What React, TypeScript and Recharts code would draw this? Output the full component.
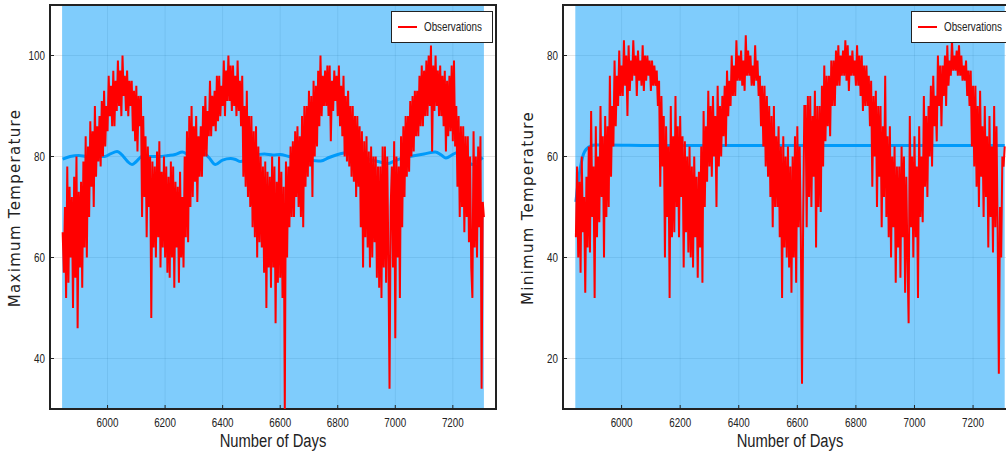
import React from 'react';
import { LineChart, Line, XAxis, YAxis, CartesianGrid, ReferenceArea, Legend } from 'recharts';

// daily observations, sampled every 4 days
const firstDay = 5844;
const dayStep = 4;

const maxObs = [
  65, 57, 70, 52, 78, 55, 74, 60, 72, 50, 76, 56, 80, 46, 73, 58, 75, 54, 79, 62,
  84, 60, 82, 68, 87, 74, 85, 70, 90, 76, 86, 79, 88, 78, 91, 80, 93, 82, 90, 85,
  96, 88, 94, 86, 97, 86, 95, 89, 99, 90, 97, 88, 100, 92, 96, 89, 97, 88, 95, 90,
  95, 85, 93, 83, 94, 81, 92, 86, 92, 68, 88, 72, 84, 64, 82, 70, 80, 48, 79, 62,
  78, 60, 81, 64, 83, 58, 77, 62, 80, 60, 78, 57, 76, 56, 79, 60, 78, 54, 75, 62,
  74, 55, 77, 60, 72, 58, 80, 64, 85, 63, 88, 70, 90, 72, 86, 75, 88, 71, 84, 76,
  86, 76, 90, 80, 92, 80, 89, 84, 95, 84, 92, 86, 93, 85, 96, 87, 96, 88, 94, 90,
  99, 88, 97, 91, 100, 91, 98, 89, 98, 90, 96, 88, 99, 89, 95, 86, 96, 76, 90, 74,
  93, 72, 88, 70, 88, 66, 85, 64, 86, 60, 82, 63, 80, 62, 78, 57, 79, 50, 77, 58,
  76, 54, 80, 58, 78, 47, 75, 55, 80, 56, 77, 52, 74, 30, 79, 60, 78, 66, 82, 68,
  83, 68, 85, 72, 86, 70, 84, 68, 88, 66, 90, 74, 90, 76, 93, 78, 92, 72, 95, 80,
  94, 82, 97, 86, 100, 88, 96, 90, 97, 90, 98, 88, 98, 83, 95, 89, 97, 91, 96, 88,
  98, 86, 94, 84, 96, 80, 92, 79, 93, 78, 90, 76, 90, 75, 88, 72, 88, 74, 86, 66,
  85, 58, 83, 64, 84, 62, 81, 58, 82, 60, 80, 63, 80, 56, 78, 54, 78, 52, 82, 58,
  82, 55, 80, 60, 34, 70, 78, 58, 83, 44, 80, 60, 78, 52, 84, 66, 86, 72, 88, 76,
  88, 77, 91, 80, 92, 81, 93, 84, 93, 84, 96, 86, 98, 86, 97, 88, 99, 88, 100, 90,
  102, 81, 98, 89, 100, 90, 97, 88, 98, 88, 96, 86, 97, 81, 95, 84, 96, 85, 98, 83,
  99, 82, 90, 74, 88, 68, 86, 70, 86, 65, 84, 68, 84, 63, 80, 58, 52, 85, 62, 80,
  60, 82, 66, 84, 34, 71, 68,
];

const minObs = [
  44, 58, 40, 55, 37, 60, 45, 52, 33, 56, 42, 62, 41, 69, 48, 58, 32, 66, 44, 60,
  47, 70, 52, 64, 40, 68, 48, 66, 50, 76, 56, 70, 62, 79, 66, 76, 70, 81, 72, 78,
  72, 83, 74, 80, 68, 82, 73, 79, 75, 83, 76, 80, 72, 81, 75, 79, 74, 82, 73, 80,
  75, 80, 76, 79, 73, 79, 74, 78, 74, 77, 70, 75, 54, 72, 58, 68, 40, 66, 48, 62,
  32, 70, 44, 64, 45, 72, 50, 66, 44, 68, 52, 64, 38, 63, 45, 60, 41, 62, 40, 58,
  38, 60, 44, 56, 36, 57, 42, 62, 35, 69, 50, 66, 55, 73, 58, 70, 56, 72, 60, 68,
  50, 74, 58, 70, 60, 72, 64, 74, 62, 77, 68, 75, 70, 80, 72, 78, 72, 83, 75, 80,
  75, 81, 74, 79, 73, 84, 76, 81, 76, 80, 74, 78, 74, 82, 75, 79, 72, 76, 66, 74,
  62, 74, 58, 72, 56, 70, 52, 68, 46, 70, 50, 64, 50, 66, 44, 62, 32, 64, 42, 60,
  40, 62, 38, 58, 33, 60, 40, 64, 35, 66, 46, 62, 44, 15, 48, 70, 70, 46, 72, 52,
  72, 50, 68, 56, 73, 42, 70, 50, 70, 49, 74, 58, 78, 63, 76, 66, 76, 64, 79, 70,
  79, 70, 81, 74, 82, 74, 80, 76, 81, 76, 83, 75, 82, 73, 80, 76, 81, 76, 79, 74,
  82, 74, 80, 72, 80, 69, 78, 70, 78, 70, 76, 66, 75, 54, 72, 60, 73, 50, 70, 56,
  70, 46, 66, 52, 76, 48, 64, 44, 66, 40, 60, 46, 62, 35, 58, 42, 58, 36, 62, 44,
  60, 33, 56, 40, 27, 68, 46, 60, 40, 64, 44, 58, 32, 66, 48, 60, 47, 72, 54, 68,
  52, 70, 60, 74, 58, 76, 66, 72, 63, 80, 70, 78, 66, 78, 72, 80, 70, 82, 74, 79,
  76, 83, 77, 80, 77, 81, 76, 82, 76, 80, 75, 78, 75, 79, 72, 77, 70, 77, 62, 74,
  58, 74, 54, 70, 50, 73, 56, 66, 48, 70, 52, 64, 42, 68, 48, 62, 41, 70, 46, 66,
  45, 17, 50, 40, 60, 58, 62,
];

// model mean
const maxMeanDays = [
  5844, 5870, 5900, 5930, 5960, 5990, 6010, 6033, 6055, 6070,
  6085, 6100, 6120, 6150, 6180, 6210, 6235, 6260, 6285, 6310,
  6329, 6352, 6375, 6400, 6428, 6445, 6462, 6480, 6510, 6545,
  6575, 6600, 6630, 6660, 6700, 6741, 6770, 6800, 6822, 6845,
  6875, 6905, 6940, 6973, 7000, 7030, 7060, 7100, 7139, 7160,
  7176, 7200, 7221, 7245, 7267, 7285, 7304,
];
const maxMean = [
  79.5, 80, 80.2, 80, 80, 80, 80.5, 81, 80, 79,
  78.4, 79, 80, 80, 80, 80.2, 80.4, 80.9, 80.3, 80.6,
  80.9, 79.8, 78.4, 79.3, 79.6, 79.4, 79, 79.3, 80.2, 80.5,
  80.3, 80.4, 80, 79.7, 79.3, 79.1, 79.8, 80.4, 80.7, 80.8,
  80.3, 79.5, 79, 78.6, 79.2, 79.8, 80.1, 80.5, 80.9, 80.3,
  79.7, 80.4, 80.9, 79.8, 78.4, 79, 79.8,
];

const minMeanDays = [5844, 5852, 5860, 5870, 5882, 5895, 5910, 5950, 6100, 6400, 6700, 7000, 7308];
const minMean = [51, 55, 58, 60.5, 61.6, 62.1, 62.3, 62.3, 62.2, 62.2, 62.2, 62.2, 62.2];

const xTicks = [6000, 6200, 6400, 6600, 6800, 7000, 7200];
const maxTicks = [40, 60, 80, 100];
const minTicks = [20, 40, 60, 80];

// no narrow face installed: squeeze Liberation Sans instead
const sans = "'Liberation Sans', Arial, sans-serif";
const squeeze = 0.82;
const ink = '#222';

function XTick({ x, y, payload }: any) {
  return (
    <g>
      <line x1={x} x2={x} y1={y} y2={y - 4} stroke={ink} />
      <text
        transform={`translate(${x},${y + 18}) scale(${squeeze},1)`}
        textAnchor="middle"
        fontFamily={sans}
        fontSize={12}
        fill={ink}
      >
        {payload.value}
      </text>
    </g>
  );
}

function YTick({ x, y, payload }: any) {
  return (
    <g>
      <line x1={x} x2={x + 4} y1={y} y2={y} stroke={ink} />
      <text
        transform={`translate(${x - 5},${y + 4}) scale(${squeeze},1)`}
        textAnchor="end"
        fontFamily={sans}
        fontSize={12}
        fill={ink}
      >
        {payload.value}
      </text>
    </g>
  );
}

function ObsLegend({ payload }: any) {
  const items = (payload || []).filter((p: any) => p.type !== 'none');
  return (
    <div style={{ background: '#fff', border: `1px solid ${ink}`, width: 102, height: 32, boxSizing: 'border-box' }}>
      {items.map((p: any) => (
        <svg key={p.value} width={100} height={30} style={{ display: 'block' }}>
          <line x1={6} x2={25} y1={15} y2={15} stroke={p.color} strokeWidth={2} />
          <text transform={`translate(32,19) scale(${squeeze},1)`} fontFamily={sans} fontSize={12} fill={ink}>
            {p.value}
          </text>
        </svg>
      ))}
    </div>
  );
}

interface PanelProps {
  left: number;
  width: number;
  obs: number[];
  meanDays: number[];
  mean: number[];
  yDomain: [number, number];
  yTicks: number[];
  yLabel: string;
  legendLeft: number;
}

function Panel({ left, width, obs, meanDays, mean, yDomain, yTicks, yLabel, legendLeft }: PanelProps) {
  const obsData = obs.map((v, i) => ({ day: firstDay + i * dayStep, value: v }));
  const meanData = mean.map((v, i) => ({ day: meanDays[i], value: v }));
  const plotLeft = 50;
  const plotRight = width - 24;

  return (
    <div style={{ position: 'absolute', left, top: 0, width, height: 454 }}>
      <LineChart width={width} height={454} margin={{ top: 5, right: 24, bottom: 15, left: 0 }}>
        <CartesianGrid stroke="#000" strokeOpacity={0.1} />
        <XAxis
          dataKey="day"
          type="number"
          domain={[5800, 7350]}
          ticks={xTicks}
          interval={0}
          allowDataOverflow
          height={30}
          tickSize={0}
          tickMargin={0}
          axisLine={false}
          tick={<XTick />}
        />
        <YAxis
          type="number"
          domain={yDomain}
          ticks={yTicks}
          interval={0}
          allowDataOverflow
          width={50}
          tickSize={0}
          tickMargin={0}
          axisLine={false}
          tick={<YTick />}
        />
        <ReferenceArea
          x1={obsData[0].day - 2}
          x2={obsData[obsData.length - 1].day}
          fill="#009AFA"
          fillOpacity={0.5}
          stroke="none"
          ifOverflow="hidden"
        />
        <Line
          data={meanData}
          dataKey="value"
          name="Mean"
          type="monotone"
          stroke="#009AFA"
          strokeWidth={3}
          dot={false}
          legendType="none"
          isAnimationActive={false}
        />
        <Line
          data={obsData}
          dataKey="value"
          name="Observations"
          stroke="#FF0000"
          strokeWidth={2}
          dot={false}
          isAnimationActive={false}
        />
        <ReferenceArea
          x1={5800}
          x2={7350}
          y1={yDomain[0]}
          y2={yDomain[1]}
          fill="none"
          stroke={ink}
          strokeWidth={2}
          ifOverflow="visible"
        />
        <Legend
          layout="horizontal"
          verticalAlign="middle"
          align="center"
          content={<ObsLegend />}
          wrapperStyle={{ left: legendLeft, top: 11, width: 102, height: 32 }}
        />
      </LineChart>
      <div
        style={{
          position: 'absolute',
          left: 15,
          top: 208,
          transform: 'translate(-50%, -50%) rotate(-90deg)',
          whiteSpace: 'nowrap',
          fontFamily: "'DejaVu Sans', sans-serif",
          fontSize: 15,
          letterSpacing: 1.3,
          color: ink,
        }}
      >
        {yLabel}
      </div>
      <div
        style={{
          position: 'absolute',
          left: (plotLeft + plotRight) / 2,
          top: 441,
          transform: `translate(-50%, -50%) scaleX(${squeeze})`,
          whiteSpace: 'nowrap',
          fontFamily: sans,
          fontSize: 18,
          color: ink,
        }}
      >
        Number of Days
      </div>
    </div>
  );
}

export default function App() {
  return (
    <div style={{ position: 'absolute', left: 0, top: 0, width: 1006, height: 454, overflow: 'hidden', background: '#fff' }}>
      <Panel
        left={0}
        width={520}
        obs={maxObs}
        meanDays={maxMeanDays}
        mean={maxMean}
        yDomain={[30, 110]}
        yTicks={maxTicks}
        yLabel="Maximum Temperature"
        legendLeft={391}
      />
      <Panel
        left={513}
        width={528}
        obs={minObs}
        meanDays={minMeanDays}
        mean={minMean}
        yDomain={[10, 90]}
        yTicks={minTicks}
        yLabel="Minimum Temperature"
        legendLeft={398}
      />
    </div>
  );
}
